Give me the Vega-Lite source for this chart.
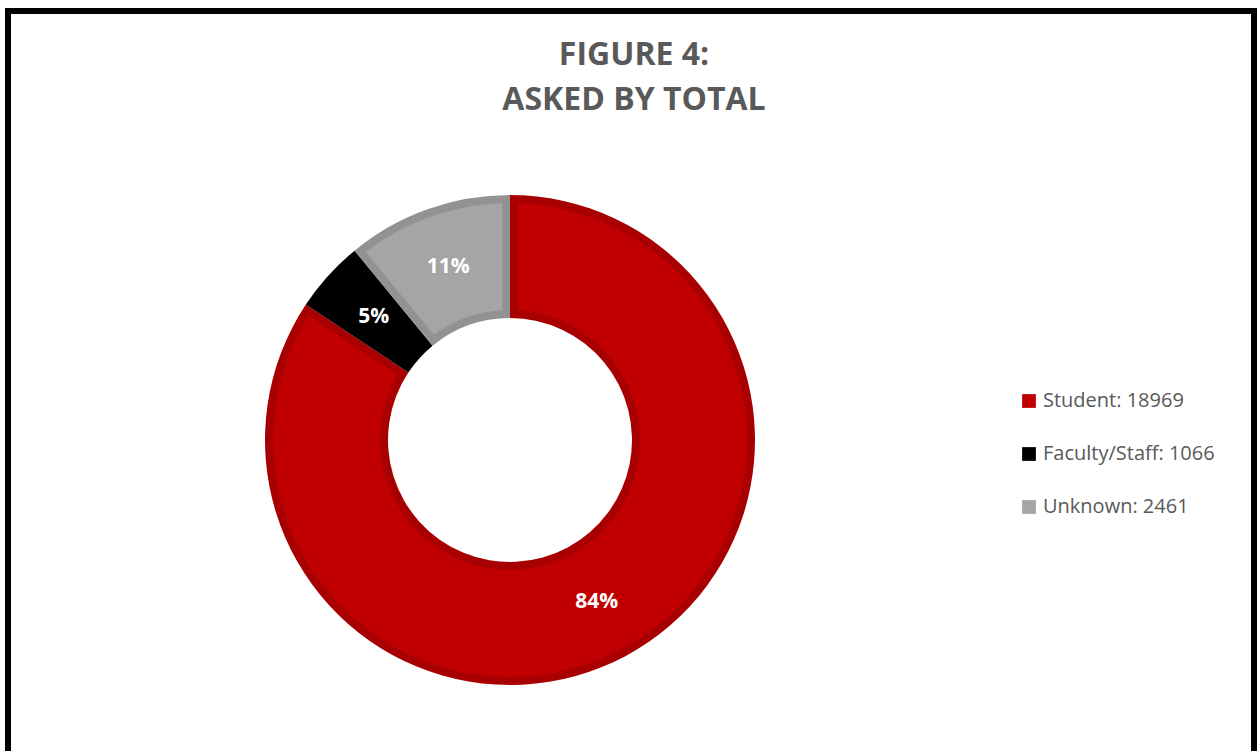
{
  "$schema": "https://vega.github.io/schema/vega-lite/v6.json",
  "width": 1246,
  "height": 743,
  "autosize": {"type": "none"},
  "padding": {"left": 8, "top": 11, "right": 3, "bottom": 0},
  "background": "white",
  "view": {"stroke": "#000000", "strokeWidth": 6, "fill": "white"},
  "config": {
    "font": "Open Sans"
  },
  "title": {
    "text": ["FIGURE 4:", "ASKED BY TOTAL"],
    "orient": "top",
    "anchor": "middle",
    "frame": "group",
    "offset": -106,
    "dx": 3,
    "font": "Open Sans",
    "fontSize": 32,
    "fontWeight": "bold",
    "color": "#595959",
    "lineHeight": 45
  },
  "data": {
    "values": [
      {"cat": "Student", "legend": "Student: 18969", "count": 18969, "pct": "84%", "ord": 1},
      {"cat": "Faculty/Staff", "legend": "Faculty/Staff: 1066", "count": 1066, "pct": "5%", "ord": 2},
      {"cat": "Unknown", "legend": "Unknown: 2461", "count": 2461, "pct": "11%", "ord": 3}
    ]
  },
  "layer": [
    {
      "mark": {"type": "arc", "outerRadius": 245, "innerRadius": 122, "x": 502, "y": 429},
      "encoding": {
        "theta": {"field": "count", "type": "quantitative", "stack": true},
        "order": {"field": "ord", "type": "quantitative"},
        "color": {
          "field": "cat",
          "type": "nominal",
          "scale": {"domain": ["Student", "Faculty/Staff", "Unknown"], "range": ["#A80000", "#000000", "#929292"]},
          "legend": null
        }
      }
    },
    {
      "mark": {"type": "arc", "outerRadius": 237, "innerRadius": 130, "padAngle": 0.058, "x": 502, "y": 429},
      "encoding": {
        "theta": {"field": "count", "type": "quantitative", "stack": true},
        "order": {"field": "ord", "type": "quantitative"},
        "color": {
          "field": "legend",
          "type": "nominal",
          "scale": {"domain": ["Student: 18969", "Faculty/Staff: 1066", "Unknown: 2461"], "range": ["#C00000", "#000000", "#A5A5A5"]},
          "legend": {
            "title": null,
            "orient": "none",
            "legendX": 1011,
            "legendY": 380,
            "symbolType": "square",
            "symbolSize": 190,
            "symbolStrokeWidth": 0,
            "labelFont": "Open Sans",
            "labelFontSize": 20,
            "labelColor": "#595959",
            "labelLimit": 400,
            "rowPadding": 33,
            "labelOffset": 4
          }
        }
      }
    },
    {
      "mark": {"type": "text", "radius": 183.5, "x": 502, "y": 429, "font": "Open Sans", "fontSize": 21, "fontWeight": "bold", "color": "#FFFFFF"},
      "encoding": {
        "theta": {"field": "count", "type": "quantitative", "stack": true},
        "order": {"field": "ord", "type": "quantitative"},
        "text": {"field": "pct", "type": "nominal"}
      }
    }
  ],
  "resolve": {"scale": {"color": "independent"}}
}
